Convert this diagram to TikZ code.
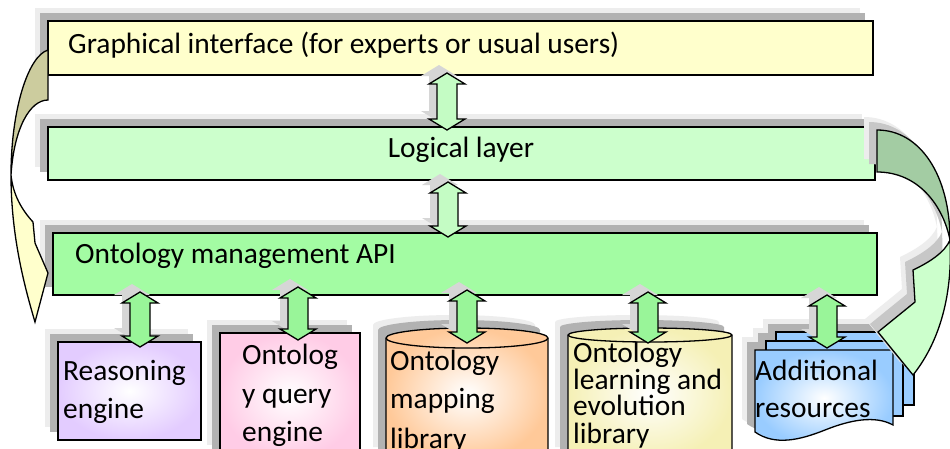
\documentclass[tikz,border=0pt]{standalone}
\usepackage{fontspec}
\setmainfont{Carlito}
\usetikzlibrary{shadows}
\definecolor{giY}{HTML}{FFFFCC}
\definecolor{llG}{HTML}{CCFFCC}
\definecolor{omaG}{HTML}{A3FCA3}
\definecolor{arrG}{HTML}{99F599}
\definecolor{arrL}{HTML}{C4FCC4}
\definecolor{leftBack}{HTML}{CCCC9E}
\definecolor{rightBack}{HTML}{A3CCA3}
\definecolor{reasP}{HTML}{E3CCFF}
\definecolor{queryP}{HTML}{FFCCE6}
\definecolor{mapO}{HTML}{FFC999}
\definecolor{learnY}{HTML}{F5F0B5}
\definecolor{addB}{HTML}{99CCFF}
\tikzset{
  shd/.style={general shadow={fill=black!7, shadow xshift=-13pt, shadow yshift=13pt},
              general shadow={fill=black!30, shadow xshift=-8pt, shadow yshift=8pt}},
  layer/.style={draw=black, line width=1.3pt, shd, anchor=north west, inner sep=0pt, outer sep=0pt},
  outl/.style={draw=black, line width=1.3pt, line join=miter},
  barrow/.style={outl, general shadow={fill=black!16, shadow xshift=-8pt, shadow yshift=8pt}},
  lbl/.style={font=\fontsize{29.4}{37}\selectfont, inner sep=0pt, anchor=base west},
}
\newcommand\vdarrow[5]{% name, colour, x, ytop, ybot
  \coordinate (#1t) at (#3,#4);
  \coordinate (#1b) at (#3,#5);
  \draw[barrow, fill=#2] (#1t) -- ({#3+18},{#4+11}) -- ({#3+10},{#4+11}) -- ({#3+10},{#5-11})
    -- ({#3+18},{#5-11}) -- (#1b) -- ({#3-18},{#5-11}) -- ({#3-10},{#5-11})
    -- ({#3-10},{#4+11}) -- ({#3-18},{#4+11}) -- cycle;}
\def\rArrDark{(877,130) .. controls (920,130) and (950,175) .. (950,240) .. controls (943,205) and (918,172) .. (877,172) -- cycle}
\def\rArrLight{(950,240) .. controls (953,300) and (937,345) .. (913,375) -- (878,332) -- (915,302) -- (913,270) .. controls (930,262) and (945,252) .. (950,240) -- cycle}
\def\pgBack{(776,332) rectangle (914,405)}
\def\pgMid{(766,341) rectangle (903,416)}
\def\pgFront{(755,350) -- (893,350) -- (893,425) .. controls (875,415) and (850,420) .. (825,430) .. controls (800,440) and (775,446) .. (755,432) -- cycle}
\begin{document}
\begin{tikzpicture}[x=1pt,y=-1pt]
\useasboundingbox (0,0) rectangle (950,448);
\begin{scope}
\clip (0,0) rectangle (950,448);
\fill[white] (0,0) rectangle (950,448);

% layers
\node[layer, fill=giY, minimum width=825pt, minimum height=54pt] (gi) at (48,21) {};
\node[layer, fill=llG, minimum width=827pt, minimum height=53pt] (ll) at (48,127) {};
\node[layer, fill=omaG, minimum width=824pt, minimum height=62pt] (oma) at (53,233) {};
\node[lbl] (gitxt) at (68,53) {Graphical interface (for experts or usual users)};
\node[lbl, anchor=base] (lltxt) at (461,157) {Logical layer};
\node[lbl] (omatxt) at (75,263) {Ontology management API};

% bottom boxes
\node[layer, inner color=white, outer color=reasP, minimum width=143pt, minimum height=98pt] (reas) at (58,342) {};
\node[layer, inner color=white, outer color=queryP, minimum width=140pt, minimum height=125pt] (query) at (220,333) {};
\path[shd, outl, inner color=white, outer color=mapO] (386,338) -- (386,460) -- (548,460) -- (548,338)
  arc[start angle=0, end angle=-180, x radius=81, y radius=10] -- cycle;
\draw[outl] (386,338) arc[start angle=180, end angle=0, x radius=81, y radius=10];
\path[shd, outl, inner color=white, outer color=learnY] (568,335) -- (568,460) -- (732,460) -- (732,335)
  arc[start angle=0, end angle=-180, x radius=82, y radius=7] -- cycle;
\draw[outl] (568,335) arc[start angle=180, end angle=0, x radius=82, y radius=7];

% additional resources (multi document)
\fill[black!7, shift={(-13,-13)}] \pgBack;
\fill[black!7, shift={(-13,-13)}] \pgMid;
\fill[black!7, shift={(-13,-13)}] \pgFront;
\fill[black!30, shift={(-8,-8)}] \pgBack;
\fill[black!30, shift={(-8,-8)}] \pgMid;
\fill[black!30, shift={(-8,-8)}] \pgFront;
\draw[outl, fill=addB] \pgBack;
\draw[outl, fill=addB] \pgMid;
\draw[outl, inner color=white, outer color=addB] \pgFront;

% texts of bottom boxes
\node[lbl] (re1) at (63,380) {Reasoning};
\node[lbl] (re2) at (63,418) {engine};
\node[lbl] (qu1) at (242,364) {Ontolog};
\node[lbl] (qu2) at (242,403) {y query};
\node[lbl] (qu3) at (242,441) {engine};
\node[lbl] (ma1) at (390,370) {Ontology};
\node[lbl] (ma2) at (390,408) {mapping};
\node[lbl] (ma3) at (390,448) {library};
\node[lbl] (le1) at (573,362) {Ontology};
\node[lbl] (le2) at (573,389) {learning and};
\node[lbl] (le3) at (573,415.5) {evolution};
\node[lbl] (le4) at (573,443) {library};
\node[lbl] (ad1) at (755,380) {Additional};
\node[lbl] (ad2) at (755,417) {resources};

% vertical double block arrows
\vdarrow{a1}{arrL}{447}{73}{130}
\vdarrow{a2}{arrL}{448}{182}{237}
\vdarrow{b1}{arrG}{140}{292}{347}
\vdarrow{b2}{arrG}{298}{287}{340}
\vdarrow{b3}{arrG}{467}{290}{343}
\vdarrow{b4}{arrG}{648}{292}{343}
\vdarrow{b5}{arrG}{827}{295}{348}

% left curved arrow
\draw[outl, fill=leftBack] (48,50) .. controls (28,56) and (11,110) .. (11,175)
  .. controls (14,128) and (30,100) .. (48,100) -- cycle;
\draw[outl, fill=giY] (11,175) .. controls (11,235) and (24,285) .. (35,322) -- (48,273) -- (35,243) -- (33,222)
  .. controls (22,210) and (13,195) .. (11,175) -- cycle;

% right curved arrow
\fill[black!7, shift={(-13,-13)}] \rArrDark;
\fill[black!7, shift={(-13,-13)}] \rArrLight;
\fill[black!22, shift={(-8,-8)}] \rArrDark;
\fill[black!22, shift={(-8,-8)}] \rArrLight;
\draw[outl, fill=rightBack] \rArrDark;
\draw[outl, fill=llG] \rArrLight;
\end{scope}
\end{tikzpicture}
\end{document}
